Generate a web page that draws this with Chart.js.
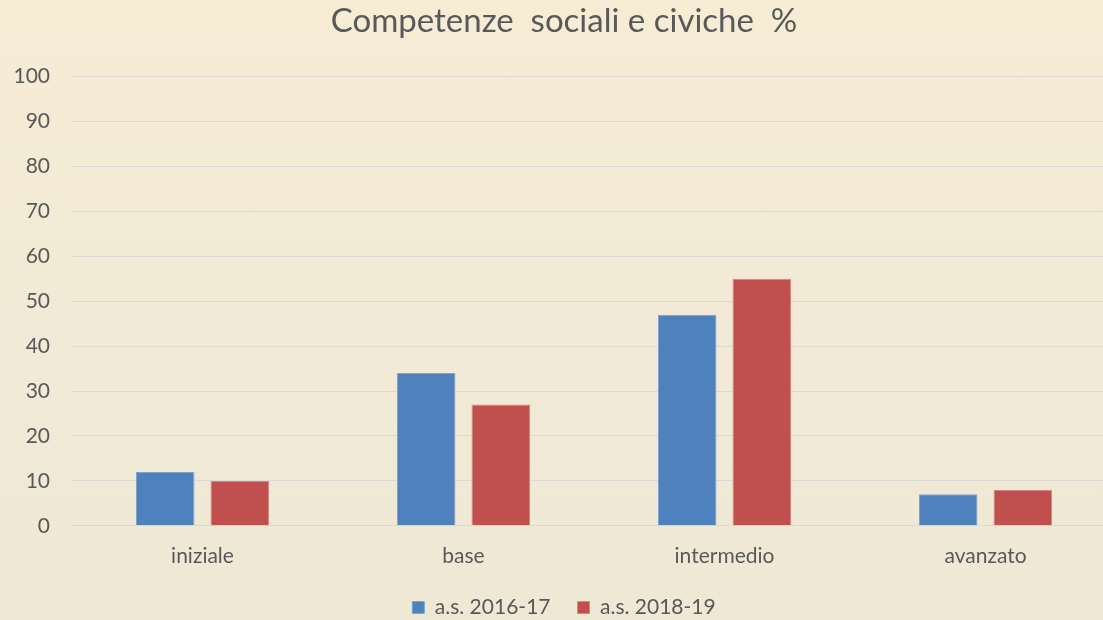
<!DOCTYPE html>
<html>
<head>
<meta charset="utf-8">
<script src="https://cdn.jsdelivr.net/npm/chart.js@4"></script>
<style>
  html, body { margin: 0; padding: 0; overflow: hidden; }
  body {
    width: 1103px;
    height: 620px;
    background: linear-gradient(to bottom, #f7ecd4 0%, #f2ead6 50%, #eee8d4 100%);
  }
  #wrap { position: relative; width: 1116px; height: 620px; }
</style>
</head>
<body>
<div id="wrap"><canvas id="chart" width="1116" height="620"></canvas></div>
<script>
const categories = ['iniziale', 'base', 'intermedio', 'avanzato'];
const values2016 = [12, 34, 47, 7];
const values2018 = [10, 27, 55, 8];
const seriesLabels = ['a.s. 2016-17', 'a.s. 2018-19'];
const chartTitle = 'Competenze  sociali e civiche  %';

const fontFamily = 'Lato, "Open Sans", sans-serif';
const textColor = '#595959';

Chart.defaults.font.family = fontFamily;
Chart.defaults.color = textColor;

// wider gap between legend items without the extra space above them
const legendShift = 17;
const legendSpacing = {
  id: 'legendSpacing',
  beforeInit(chart) {
    const legend = chart.legend;
    const fit = legend.fit;
    legend.fit = function () {
      fit.call(this);
      this.height -= legendShift;
    };
  },
  beforeDraw(chart) {
    chart.legend.top -= legendShift;
  },
};

const ctx = document.getElementById('chart').getContext('2d');

new Chart(ctx, {
  type: 'bar',
  data: {
    labels: categories,
    datasets: [
      {
        label: seriesLabels[0],
        data: values2016,
        backgroundColor: '#4f81bd',
        borderColor: '#7fa3cf',
        borderWidth: 1,
      },
      {
        label: seriesLabels[1],
        data: values2018,
        backgroundColor: '#c0504d',
        borderColor: '#d98784',
        borderWidth: 1,
      },
    ],
  },
  options: {
    responsive: false,
    animation: false,
    layout: { padding: { left: 12, right: 0, top: 0, bottom: -8 } },
    datasets: {
      bar: { categoryPercentage: 0.571, barPercentage: 0.785 },
    },
    plugins: {
      title: {
        display: true,
        text: chartTitle,
        color: textColor,
        font: { size: 33, weight: 'normal' },
        padding: { top: 2, bottom: 35 },
      },
      legend: {
        position: 'bottom',
        labels: {
          color: textColor,
          font: { size: 21 },
          boxWidth: 12,
          boxHeight: 12,
          padding: 27,
        },
      },
      tooltip: { enabled: false },
    },
    scales: {
      x: {
        grid: { display: false, drawTicks: false },
        border: { color: '#d9d9d9' },
        ticks: { font: { size: 21 }, color: textColor, padding: 18 },
      },
      y: {
        min: 0,
        max: 100,
        afterFit: (scale) => { scale.width = 60; },
        ticks: { stepSize: 10, font: { size: 21 }, color: textColor, padding: 22 },
        grid: { color: '#dcdad3', drawTicks: false },
        border: { display: false },
      },
    },
  },
  plugins: [legendSpacing],
});
</script>
</body>
</html>
